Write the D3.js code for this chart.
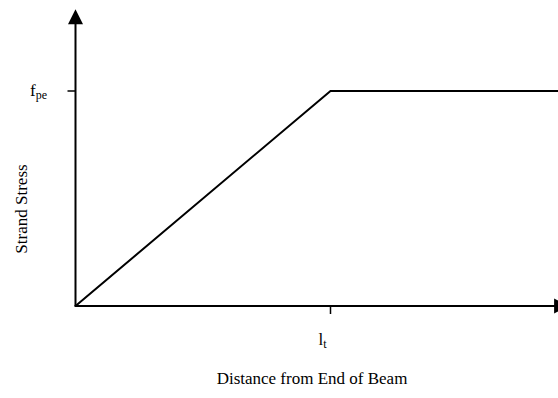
<!DOCTYPE html>
<html>
<head>
<meta charset="utf-8">
<script src="https://cdn.jsdelivr.net/npm/d3@7"></script>
<style>
  html, body { margin: 0; padding: 0; background: #fff; }
  svg { display: block; }
  text { font-family: "Liberation Serif", "Times New Roman", serif; fill: #000; }
</style>
</head>
<body>
<svg id="chart" width="558" height="398"></svg>
<script>
// Idealised transfer-length profile: stress rises linearly to f_pe at l_t, then stays flat.
const distance = [0, 1, 1.9];        // in units of l_t
const stress   = [0, 1, 1];          // in units of f_pe
const xTicks   = [{ value: 1, base: "l", sub: "t" }];
const yTicks   = [{ value: 1, base: "f", sub: "pe" }];
const xTitle   = "Distance from End of Beam";
const yTitle   = "Strand Stress";

const svg = d3.select("#chart");
const x = d3.scaleLinear().domain([0, 1.9]).range([75.5, 560]);
const y = d3.scaleLinear().domain([0, 1]).range([306, 91]);

const yTop = 1.38;
const xEnd = 1.92;

// y axis with arrowhead
svg.append("line")
  .attr("x1", x(0)).attr("y1", y(0))
  .attr("x2", x(0)).attr("y2", y(yTop) + 14)
  .attr("stroke", "#000").attr("stroke-width", 2);
svg.append("path")
  .attr("d", `M${x(0)},${y(yTop)} L${x(0) - 7.5},${y(yTop) + 15} L${x(0) + 7.5},${y(yTop) + 15} Z`)
  .attr("fill", "#000");

// x axis with arrowhead
svg.append("line")
  .attr("x1", x(0) - 1).attr("y1", y(0))
  .attr("x2", x(xEnd) - 10).attr("y2", y(0))
  .attr("stroke", "#000").attr("stroke-width", 2);
svg.append("path")
  .attr("d", `M${x(xEnd) + 4},${y(0)} L${x(xEnd) - 11},${y(0) - 7.5} L${x(xEnd) - 11},${y(0) + 7.5} Z`)
  .attr("fill", "#000");

// ticks
svg.selectAll(".ytick").data(yTicks).join("line")
  .attr("class", "ytick")
  .attr("x1", x(0) - 8).attr("x2", x(0))
  .attr("y1", d => y(d.value)).attr("y2", d => y(d.value))
  .attr("stroke", "#000").attr("stroke-width", 1.5);
svg.selectAll(".xtick").data(xTicks).join("line")
  .attr("class", "xtick")
  .attr("x1", d => x(d.value)).attr("x2", d => x(d.value))
  .attr("y1", y(0)).attr("y2", y(0) + 8)
  .attr("stroke", "#000").attr("stroke-width", 1.5);

// tick labels with subscripts
const yl = svg.selectAll(".ylab").data(yTicks).join("text")
  .attr("class", "ylab")
  .attr("x", 30).attr("y", d => y(d.value) + 5)
  .attr("font-size", 17);
yl.append("tspan").text(d => d.base);
yl.append("tspan").attr("dy", 3).attr("font-size", 12).text(d => d.sub);

const xl = svg.selectAll(".xlab").data(xTicks).join("text")
  .attr("class", "xlab")
  .attr("x", d => x(d.value) - 12).attr("y", 345)
  .attr("font-size", 17);
xl.append("tspan").text(d => d.base);
xl.append("tspan").attr("dy", 3).attr("font-size", 12).text(d => d.sub);

// stress profile
const line = d3.line().x((d, i) => x(distance[i])).y(d => y(d));
svg.append("path")
  .datum(stress)
  .attr("d", line)
  .attr("fill", "none")
  .attr("stroke", "#000")
  .attr("stroke-width", 2);

// axis titles
svg.append("text")
  .attr("x", 312).attr("y", 384)
  .attr("text-anchor", "middle")
  .attr("font-size", 17)
  .text(xTitle);
svg.append("text")
  .attr("transform", "translate(27,209) rotate(-90)")
  .attr("text-anchor", "middle")
  .attr("font-size", 17)
  .text(yTitle);
</script>
</body>
</html>
